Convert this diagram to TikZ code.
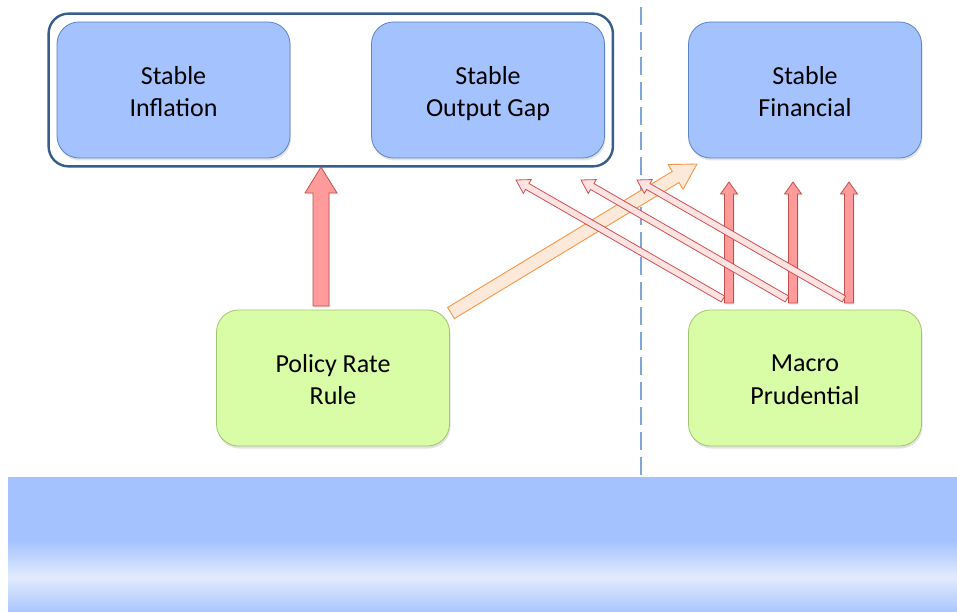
\documentclass[tikz,border=0pt]{standalone}
\usepackage{fontspec}
\setmainfont{Carlito}
\usetikzlibrary{calc,fit,shadows}

\definecolor{goalfill}{HTML}{A4C2FE}
\definecolor{goalline}{HTML}{5A84C4}
\definecolor{toolfill}{HTML}{D9FCA6}
\definecolor{toolline}{HTML}{A3C46E}
\definecolor{groupline}{HTML}{385D8A}
\definecolor{divline}{HTML}{7EA6D8}
\definecolor{redfill}{HTML}{FF9B9B}
\definecolor{redline}{HTML}{C0504D}
\definecolor{pinkfill}{HTML}{FFE2E2}
\definecolor{pinkline}{HTML}{D0504F}
\definecolor{orangefill}{HTML}{FDE9D9}
\definecolor{orangeline}{HTML}{F79646}
\definecolor{bandtop}{HTML}{A4C2FE}
\definecolor{bandlight}{HTML}{E2EBFD}
\definecolor{bandbot}{HTML}{A9C5FE}

% block arrow from #2 to #3: shaft half width #4, head half width #5, head length #6
\newcommand\blockarrow[6]{%
  \coordinate (hb) at ($(#3)!#6!(#2)$);
  \draw[#1] ($(#2)!#4!90:(#3)$) -- ($(hb)!#4!90:(#3)$) -- ($(hb)!#5!90:(#3)$)
    -- (#3) -- ($(hb)!#5!-90:(#3)$) -- ($(hb)!#4!-90:(#3)$)
    -- ($(#2)!#4!-90:(#3)$) -- cycle;}

\tikzset{
  boxtext/.style={align=center, font=\fontsize{26}{32.5}\selectfont, inner sep=0pt,
    yshift=-6.5pt, execute at begin node=\strut, execute at end node=\strut},
  goal/.style={draw=goalline, fill=goalfill, line width=0.8pt, rounded corners=22pt,
    minimum width=233pt, minimum height=136pt,
    drop shadow={opacity=0.22, shadow xshift=1pt, shadow yshift=-2.5pt}},
  tool/.style={goal, draw=toolline, fill=toolfill},
  group/.style={draw=groupline, line width=2.4pt, rounded corners=20pt, inner sep=8pt},
  divider/.style={draw=divline, line width=2.2pt, dash pattern=on 18pt off 7pt},
  redarrow/.style={fill=redfill, draw=redline, line width=0.8pt, line join=miter,
    drop shadow={opacity=0.15, shadow xshift=1pt, shadow yshift=-1.5pt}},
  pinkarrow/.style={fill=pinkfill, draw=pinkline, line width=0.8pt, line join=miter},
  orangearrow/.style={fill=orangefill, draw=orangeline, line width=0.9pt, line join=miter},
}

\begin{document}
\begin{tikzpicture}[x=1pt, y=-1pt]
  \useasboundingbox (0,0) rectangle (957,612);
  \fill[white] (0,0) rectangle (957,612);

  % bottom band with its light streak
  \fill[bandtop] (8,477) rectangle (957,540.5);
  \shade[top color=bandtop, bottom color=bandlight] (8,540) rectangle (957,577.5);
  \shade[top color=bandlight, bottom color=bandbot] (8,577) rectangle (957,612);

  % divider between monetary and financial side
  \coordinate (div-top) at (641,7);
  \coordinate (div-bot) at (641,477);
  \draw[divider] (div-top) -- (div-bot);

  % goals
  \node[goal, label={[boxtext]center:Stable\\Inflation}]  (infl) at (173.5,90) {};
  \node[goal, label={[boxtext]center:Stable\\Output Gap}] (gap)  at (488,90)   {};
  \node[goal, label={[boxtext]center:Stable\\Financial}]  (fin)  at (805,90)   {};
  \node[group, fit=(infl)(gap)] (macro) {};

  % instruments
  \node[tool, label={[boxtext]center:Policy Rate\\Rule}]   (prr) at (333,378) {};
  \node[tool, label={[boxtext]center:Macro\\Prudential}]  (mp)  at (805,378) {};

  % policy rate rule effects
  \coordinate (prr-up)  at (321,306);
  \coordinate (grp-in)  at (321,167);
  \coordinate (prr-out) at (451,313);
  \coordinate (fin-in)  at (697,164);
  \blockarrow{orangearrow}{prr-out}{fin-in}{6.5pt}{14.5pt}{25pt}
  \blockarrow{redarrow}{prr-up}{grp-in}{8pt}{16pt}{26pt}

  % macro prudential effects on the financial goal
  \foreach \i/\x in {1/729, 2/793, 3/849} {
    \coordinate (mp-up\i)  at (\x,303);
    \coordinate (fin-up\i) at (\x,182);
    \blockarrow{redarrow}{mp-up\i}{fin-up\i}{4.5pt}{8.5pt}{12pt}
  }

  % macro prudential spill-overs to the output gap
  \foreach \i/\x/\t in {1/723/516, 2/787/581, 3/844/637} {
    \coordinate (mp-side\i) at (\x,299);
    \coordinate (gap-in\i)  at (\t,180);
    \blockarrow{pinkarrow}{mp-side\i}{gap-in\i}{3.4pt}{8pt}{13pt}
  }
\end{tikzpicture}
\end{document}
